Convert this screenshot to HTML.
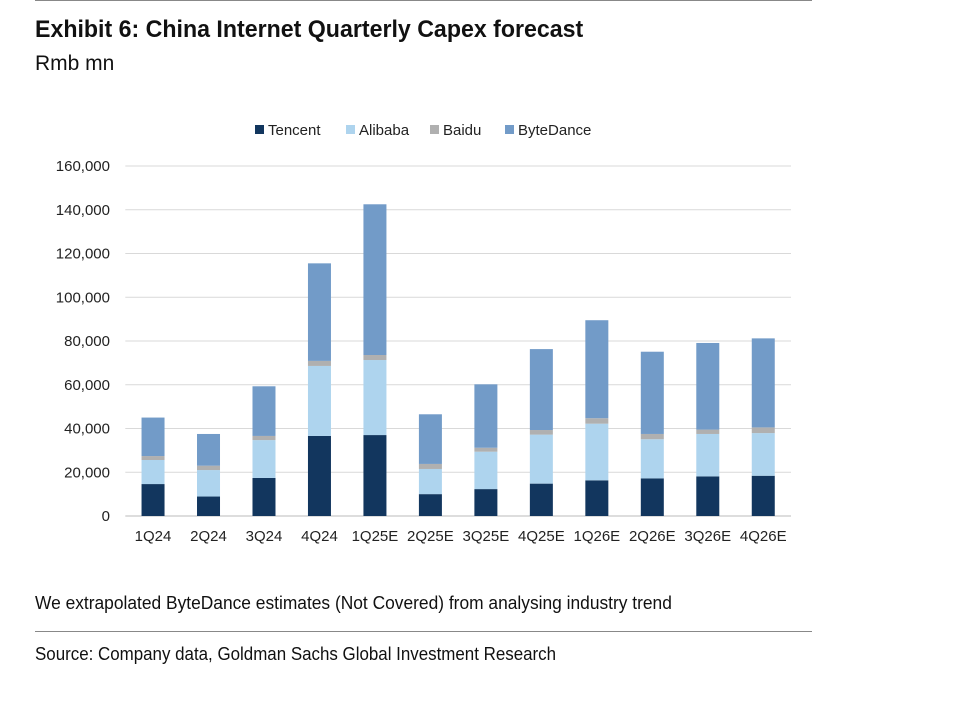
<!DOCTYPE html>
<html><head><meta charset="utf-8"><style>
body{margin:0;background:#fff;font-family:"Liberation Sans",sans-serif;}
.t{position:absolute;color:#111;white-space:nowrap;}
</style></head><body>
<div style="position:relative;width:958px;height:702px;overflow:hidden">
<div style="position:absolute;left:35px;top:0;width:777px;height:1px;background:#888"></div>
<div class="t" style="left:35px;top:16px;font-size:24px;font-weight:bold;transform:scaleX(0.965);transform-origin:left">Exhibit 6: China Internet Quarterly Capex forecast</div>
<div class="t" style="left:35px;top:52px;font-size:21px;transform:scaleX(1.0);transform-origin:left">Rmb mn</div>
<svg id="chart" width="958" height="580" style="position:absolute;left:0;top:0" font-family="Liberation Sans, sans-serif"></svg>
<div class="t" style="left:35px;top:593px;font-size:18px;transform:scaleX(0.965);transform-origin:left">We extrapolated ByteDance estimates (Not Covered) from analysing industry trend</div>
<div style="position:absolute;left:35px;top:631px;width:777px;height:1px;background:#888"></div>
<div class="t" style="left:35px;top:644px;font-size:18px;transform:scaleX(0.94);transform-origin:left">Source: Company data, Goldman Sachs Global Investment Research</div>
</div>
<script>
const categories=["1Q24","2Q24","3Q24","4Q24","1Q25E","2Q25E","3Q25E","4Q25E","1Q26E","2Q26E","3Q26E","4Q26E"];
const tencent=[14600,8900,17400,36600,37000,10000,12300,14800,16300,17200,18100,18400];
const alibaba=[11000,12100,17300,32000,34300,11500,17100,22400,25900,17900,19400,19500];
const baidu=[1800,2000,1900,2300,2300,2300,1800,2100,2500,2400,2000,2600];
const bytedance=[17600,14500,22700,44600,68900,22700,29000,37000,44800,37600,39600,40700];
const yTicks=[0,20000,40000,60000,80000,100000,120000,140000,160000];
const seriesNames=["Tencent","Alibaba","Baidu","ByteDance"];
const colors=["#12365e","#aed4ee","#b0b0b0","#729bc8"];
const svg=document.getElementById('chart');const NS="http://www.w3.org/2000/svg";
const x0=125.3,x1=791,y0=516,y1=166;
const step=(x1-x0)/categories.length;
const y=v=>y0-(v/160000)*(y0-y1);
const xc=i=>x0+step*(i+0.5);
function mk(t,a){const e=document.createElementNS(NS,t);for(const k in a)e.setAttribute(k,a[k]);svg.appendChild(e);return e;}
yTicks.forEach(v=>{
 const l=mk('line',{x1:x0,x2:x1,y1:y(v),y2:y(v),stroke:v===0?'#bbb':'#d9d9d9','stroke-width':1});
 
 
 const t=mk('text',{x:110,y:y(v)+5,'text-anchor':'end','font-size':15,fill:'#222'});
 t.textContent=v.toLocaleString('en-US');
 
 
});
const series=[tencent,alibaba,baidu,bytedance];
categories.forEach((c,i)=>{
 let base=0;
 series.forEach((s,k)=>{
  const r=mk('rect',{x:xc(i)-11.5,width:23,y:y(base+s[i]),height:y(base)-y(base+s[i]),fill:colors[k]});
  
  
  base+=s[i];
 });
 const t=mk('text',{x:xc(i),y:541,'text-anchor':'middle','font-size':15,fill:'#222'});
 t.textContent=c;
 
 
});
const legX=[255,346,430,505];
seriesNames.forEach((n,k)=>{
 const r=mk('rect',{x:legX[k],y:125,width:9,height:9,fill:colors[k]});
 
 
 const t=mk('text',{x:legX[k]+13,y:135,'font-size':15,fill:'#222'});
 t.textContent=n;
 
 
});
</script>
</body></html>
